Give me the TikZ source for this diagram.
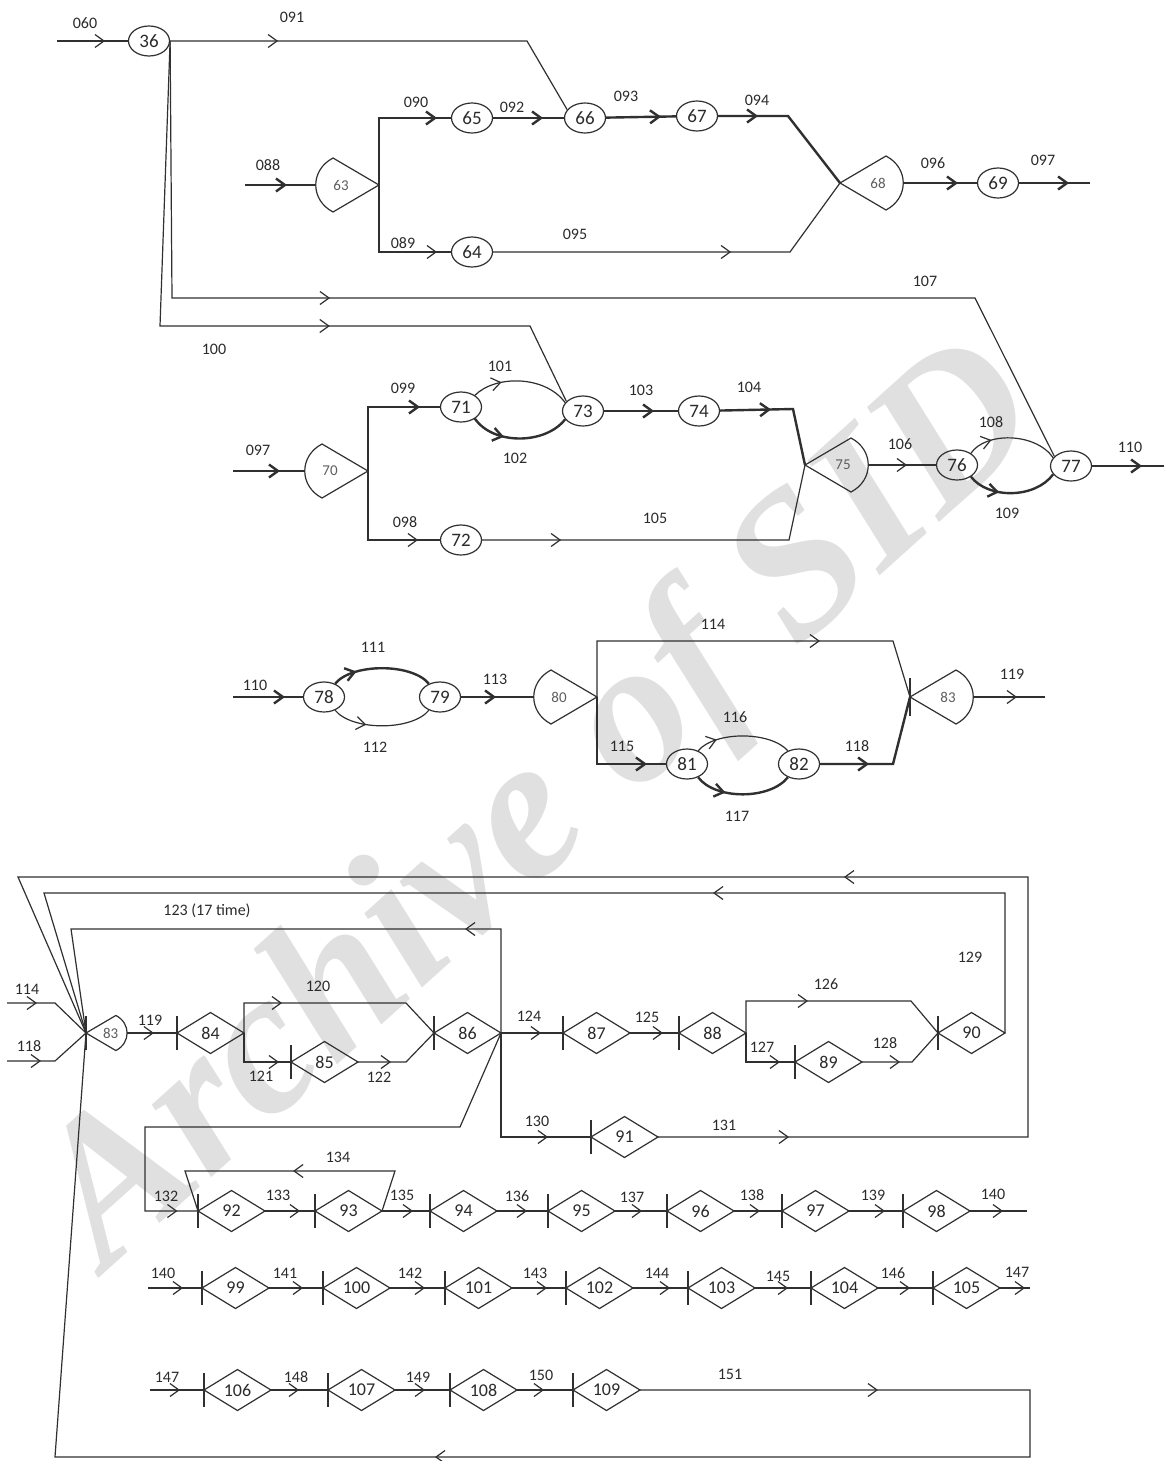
\documentclass[tikz,border=0pt]{standalone}
\usepackage{fontspec}
\setmainfont{Carlito}
\newfontfamily\markfont{Liberation Serif}
\usetikzlibrary{arrows.meta,shapes.geometric,decorations.markings}
\definecolor{ink}{HTML}{2B2B2B}
\definecolor{wire}{HTML}{303030}
\definecolor{soft}{HTML}{5E5E5E}
\definecolor{haze}{HTML}{E0E0E0}
\tikzset{
  every node/.style={text=ink,inner sep=0pt},
  >={Straight Barb[length=4.5pt,width=6.5pt]},
  lab/.style={font=\fontsize{8}{9.5}\selectfont},
  link/.style={draw=wire,line width=.6pt},
  main/.style={draw=wire,line width=1.2pt},
  arr/.style={postaction={decorate,decoration={markings,mark=at position #1*0.5pt with {\arrow{>}}}}},
  ell/.style={ellipse,draw=wire,line width=.6pt,minimum width=20.5pt,minimum height=15pt,font=\fontsize{9.5}{11}\selectfont},
  dia/.style={diamond,draw=wire,line width=.6pt,aspect=1.6,minimum width=33.5pt,minimum height=20.5pt,outer sep=0pt,font=\fontsize{9}{11}\selectfont},
  bar/.style={draw=wire,line width=.6pt},
  gateline/.style={draw=wire,line width=.6pt,line join=round},
  gatelab/.style={font=\fontsize{7.5}{9}\selectfont,text=soft},
}
% gate: name, apex x, apex y, side (1 = body to the right), size, label
\newcommand{\gate}[6]{%
  \begin{scope}[shift={(#2,#3)},xscale=(#4)*(#5),yscale=#5]
    \draw[gateline] (0,0) -- (46,-27) .. controls (69,-15) and (69,15) .. (46,27) -- cycle;
  \end{scope}
  \coordinate (#1) at (#2,#3);
  \coordinate (#1b) at ({#2+(#4)*(#5)*63},#3);
  \node[gatelab] (#1t) at ({#2+(#4)*(#5)*38},#3) {#6};
}
% junction box: name, bar x, y, label
\newcommand{\junc}[4]{%
  \node[dia,anchor=west] (#1) at (#2,#3) {#4};
  \draw[bar] (#1.west) ++(0,-17) -- ++(0,34);
}

\begin{document}
\begin{tikzpicture}[x=.5pt,y=-.5pt]
\path[use as bounding box] (0,0) rectangle (1166,1461);
\fill[white] (0,0) rectangle (1166,1461);
\node[text=haze,font=\markfont\bfseries\itshape\fontsize{102}{104}\selectfont,rotate=42] (wm) at (545,810) {Archive of SID};

% block 1
\coordinate (i060) at (57,41);
\coordinate (i088) at (245,185);
\coordinate (o097) at (1090,183);
\node[ell] (n36) at (149,41) {36};
\node[ell] (n65) at (472,118) {65};
\node[ell] (n66) at (585,118) {66};
\node[ell] (n67) at (697,116) {67};
\node[ell] (n64) at (472,252) {64};
\node[ell] (n69) at (998,183) {69};
\gate{g63}{379}{185}{-1}{1}{63}
\gate{g68}{840}{183}{1}{1}{68}
\draw[link,arr=48] (i060) -- (n36);
\draw[link,arr=108] (n36.east) -- (527,41) -- (n66.155);
\draw[main,arr=42] (i088) -- (g63b);
\draw[main,arr=125] (g63) -- (379,118) -- (n65);
\draw[link,arr=125] (g63) -- (379,252) -- (n64);
\draw[main,arr=50] (n65) -- (n66);
\draw[main,arr=55] (n66) -- (n67);
\draw[main,arr=40] (n67) -- (788,116) -- (g68);
\draw[link,arr=238] (n64) -- (790,252) -- (g68);
\draw[main,arr=55] (g68b) -- (n69);
\draw[main,arr=50] (n69) -- (o097);

% block 2
\coordinate (i097) at (233,471);
\coordinate (o110) at (1164,466);
\node[ell] (n71) at (461,407) {71};
\node[ell] (n72) at (461,540) {72};
\node[ell] (n73) at (583,411) {73};
\node[ell] (n74) at (699,411) {74};
\node[ell] (n76) at (957,465) {76};
\node[ell] (n77) at (1071,466) {77};
\gate{g70}{368}{471}{-1}{1}{70}
\gate{g75}{805}{465}{1}{1}{75}
\draw[link,arr=415] (n36.east) -- (172,298) -- (975,298) -- (n77.150);
\draw[link,arr=455] (n36.east) -- (160,326) -- (530,326) -- (n73.150);
\draw[main,arr=47] (i097) -- (g70b);
\draw[main,arr=116] (g70) -- (368,407) -- (n71);
\draw[link,arr=119] (g70) -- (368,540) -- (n72);
\draw[link,arr=30] (n71.40) .. controls (495,375) and (545,375) .. (n73.155);
\draw[main,arr=35] (n71.-40) .. controls (493,445) and (545,445) .. (n73.205);
\draw[main,arr=50] (n73) -- (n74);
\draw[main,arr=51] (n74) -- (793,409) -- (g75);
\draw[link,arr=79] (n72) -- (789,540) -- (g75);
\draw[link,arr=39] (g75b) -- (n76);
\draw[link,arr=25] (n76.40) .. controls (985,432) and (1035,432) .. (n77.155);
\draw[main,arr=33] (n76.-40) .. controls (988,499) and (1035,499) .. (n77.205);
\draw[main,arr=50] (n77) -- (o110);

% block 3
\coordinate (i110) at (233,697);
\coordinate (o119) at (1045,697);
\node[ell] (n78) at (324,697) {78};
\node[ell] (n79) at (440,697) {79};
\node[ell] (n81) at (687,764) {81};
\node[ell] (n82) at (799,764) {82};
\gate{g80}{597}{697}{-1}{1}{80}
\gate{g83a}{910}{697}{1}{1}{83}
\draw[bar] (g83a) ++(0,-19) -- ++(0,38);
\draw[main,arr=52] (i110) -- (n78);
\draw[main,arr=25] (n78.50) .. controls (352,663) and (412,663) .. (n79.130);
\draw[link,arr=35] (n78.-50) .. controls (352,731) and (412,731) .. (n79.-130);
\draw[main,arr=35] (n79) -- (g80b);
\draw[link,arr=279] (g80) -- (597,641) -- (893,641) -- (g83a);
\draw[main,arr=117] (g80) -- (597,764) -- (n81);
\draw[link,arr=22] (n81.50) .. controls (715,731) and (770,731) .. (n82.130);
\draw[main,arr=32] (n81.-50) .. controls (715,800) and (770,800) .. (n82.-130);
\draw[main,arr=49] (n82) -- (893,764) -- (g83a);
\draw[link,arr=44] (g83ab) -- (o119);

% block 4
\coordinate (i114) at (7,1003);
\coordinate (i118) at (7,1061);
\coordinate (o140) at (1027,1211);
\coordinate (i140) at (148,1288);
\coordinate (o147) at (1030,1288);
\coordinate (i147) at (150,1390);
\gate{g83c}{86}{1033}{1}{.65}{83}
\draw[bar] (g83c) ++(0,-17) -- ++(0,34);
\foreach \n/\x/\y in {84/177/1033,85/291/1062,86/434/1033,87/563/1033,88/679/1033,89/795/1062,90/938/1033,91/591/1137}
  {\junc{d\n}{\x}{\y}{\n}}
\foreach \n/\x in {92/198,93/315,94/430,95/548,96/667,97/782,98/903}
  {\junc{d\n}{\x}{1211}{\n}}
\foreach \n/\x in {99/202,100/323,101/445,102/566,103/688,104/811,105/933}
  {\junc{d\n}{\x}{1288}{\n}}
\foreach \n/\x in {106/204,107/328,108/450,109/573}
  {\junc{d\n}{\x}{1390}{\n}}
\draw[link,arr=30] (i114) -- (55,1003) -- (g83c);
\draw[link,arr=34] (i118) -- (55,1061) -- (g83c);
\draw[link,arr=27] (g83cb) -- (d84);
\draw[link,arr=68] (d84.east) -- (244,1003) -- (406,1003) -- (d86.west);
\draw[link,arr=64] (d84.east) -- (244,1062) -- (d85.west);
\draw[link,arr=33] (d85.east) -- (406,1062) -- (d86.west);
\draw[link,arr=140] (d86.east) -- (501,929) -- (71,929) -- (g83c);
\draw[link,arr=94] (d88.east) -- (746,1001) -- (911,1001) -- (d90.west);
\draw[link,arr=63] (d88.east) -- (746,1062) -- (d89.west);
\draw[link,arr=38] (d89.east) -- (912,1062) -- (d90.west);
\draw[link,arr=432] (d90.east) -- (1005,893) -- (44,893) -- (g83c);
\draw[link,arr=151] (d86.east) -- (501,1137) -- (d91.west);
\draw[link,arr=131,arr=814] (d91.east) -- (1028,1137) -- (1028,877) -- (18,877) -- (g83c);
\draw[link,arr=534] (d86.east) -- (460,1127) -- (145,1127) -- (145,1211) -- (d92.west);
\draw[link,arr=144] (d93.east) -- (395,1171) -- (185,1171) -- (d92.west);
\foreach \p/\q/\s in {86/87/40,87/88/33,92/93/35,93/94/31,94/95/30,95/96/27,96/97/26,97/98/36,99/100/34,100/101/35,101/102/35,102/103/37,103/104/33,104/105/32,106/107/28,107/108/30,108/109/27}
  \draw[link,arr=\s] (d\p) -- (d\q);
\draw[link,arr=33] (d98) -- (o140);
\draw[link,arr=35] (i140) -- (d99);
\draw[link,arr=25] (d105) -- (o147);
\draw[link,arr=30] (i147) -- (d106);
\draw[link,arr=238,arr=1052] (d109.east) -- (1030,1390) -- (1030,1457) -- (55,1457) -- (g83c);

% flow numbers
\foreach \t/\x/\y in {060/85/23,091/292/17,088/268/165,090/416/102,092/512/107,093/626/96,094/757/100,089/403/243,095/575/234,096/933/163,097/1043/160,107/925/281,100/214/349,
  097/258/450,099/403/388,098/405/522,101/500/366,102/515/458,103/641/390,104/749/387,105/655/518,106/900/444,108/991/422,109/1007/513,110/1130/447,
  110/255/685,111/373/647,112/375/747,113/495/679,114/713/624,115/622/746,116/735/717,117/737/816,118/857/746,119/1012/674,
  114/27/989,118/29/1046,119/150/1020,120/318/986,121/261/1076,122/379/1077,124/529/1016,125/647/1017,126/826/984,127/762/1047,128/885/1043,129/970/957,130/537/1121,131/724/1125,
  134/338/1157,132/166/1196,133/278/1195,135/402/1195,136/517/1196,137/632/1197,138/752/1195,139/873/1195,140/993/1194,
  140/163/1273,141/285/1273,142/410/1273,143/535/1273,144/657/1273,145/778/1276,146/893/1273,147/1017/1272,
  147/167/1377,148/296/1377,149/418/1377,150/541/1375,151/730/1374}
  \node[lab] (l\t) at (\x,\y) {\t};
\node[lab] (l123) at (207,911) {123 (17 time)};
\end{tikzpicture}
\end{document}
